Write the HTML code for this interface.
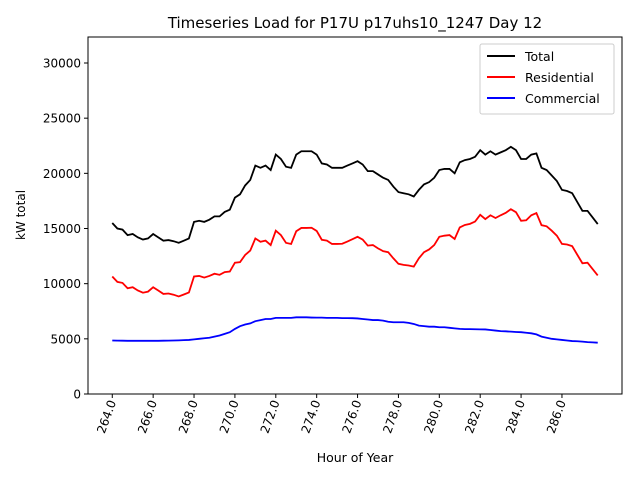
<!DOCTYPE html>
<html><head><meta charset="utf-8"><style>
body{margin:0;background:#fff;}
svg text{font-family:"DejaVu Sans","Liberation Sans",sans-serif;}
</style></head><body>
<svg id="chart" width="640" height="480" xmlns="http://www.w3.org/2000/svg">
<rect width="640" height="480" fill="#fff"/>
<text x="355" y="28" font-size="15" text-anchor="middle">Timeseries Load for P17U p17uhs10_1247  Day 12</text>
<text transform="translate(25,215) rotate(-90)" font-size="12" text-anchor="middle">kW total</text>
<text x="355" y="462" font-size="12.5" text-anchor="middle">Hour of Year</text>
<g id="ticks"></g>
<g id="series"></g>
<rect x="88" y="37" width="534" height="357" fill="none" stroke="#000" stroke-width="1"/>
<g>
<rect x="480" y="44" width="134" height="70" fill="#fff" stroke="#ccc" rx="2"/>
<line x1="487" y1="56" x2="515" y2="56" stroke="#000" stroke-width="2"/>
<text x="525" y="61" font-size="12.5">Total</text>
<line x1="487" y1="77" x2="515" y2="77" stroke="#f00" stroke-width="2"/>
<text x="525" y="82" font-size="12.5">Residential</text>
<line x1="487" y1="98" x2="515" y2="98" stroke="#00f" stroke-width="2"/>
<text x="525" y="103" font-size="12.5">Commercial</text>
</g>
</svg>
<script>
const total=[15500,15000,14900,14400,14500,14200,14000,14100,14500,14200,13900,13950,13850,13700,13900,14100,
15600,15700,15600,15800,16100,16100,16500,16700,17800,18100,18900,19400,20700,20500,20700,20300,
21700,21300,20600,20500,21700,22000,22000,22000,21700,20900,20800,20500,20500,20500,20700,20900,
21100,20800,20200,20200,19900,19600,19400,18800,18300,18200,18100,17900,18500,19000,19200,19600,
20300,20400,20400,20000,21000,21200,21300,21500,22100,21700,22000,21700,21900,22100,22400,22100,
21300,21300,21700,21800,20500,20300,19800,19300,18500,18400,18200,17400,16600,16600,16000,15400];
const residential=[10650,10160,10070,9580,9680,9380,9180,9280,9680,9380,9070,9110,9000,8840,9020,9200,
10650,10700,10550,10700,10900,10800,11050,11100,11900,11950,12600,13000,14100,13800,13900,13500,
14800,14400,13700,13600,14750,15050,15050,15070,14780,13980,13900,13600,13600,13620,13820,14030,
14250,14000,13450,13500,13200,12950,12850,12300,11800,11700,11650,11550,12300,12850,13100,13500,
14250,14350,14400,14050,15100,15320,15420,15630,16240,15850,16200,15950,16200,16420,16750,16480,
15700,15750,16200,16400,15300,15200,14800,14350,13600,13550,13400,12620,11850,11900,11320,10750];
const commercial=[4850,4840,4830,4820,4820,4820,4820,4820,4820,4820,4830,4840,4850,4860,4880,4900,
4950,5000,5050,5100,5200,5300,5450,5600,5900,6150,6300,6400,6600,6700,6800,6800,
6900,6900,6900,6900,6950,6950,6950,6930,6920,6920,6900,6900,6900,6880,6880,6870,
6850,6800,6750,6700,6700,6650,6550,6500,6500,6500,6450,6350,6200,6150,6100,6100,
6050,6050,6000,5950,5900,5880,5880,5870,5860,5850,5800,5750,5700,5680,5650,5620,
5600,5550,5500,5400,5200,5100,5000,4950,4900,4850,4800,4780,4750,4700,4680,4650];
const startHour=264, stepHour=0.25;
const xTicks=[264,266,268,270,272,274,276,278,280,282,284,286];
const yTicks=[0,5000,10000,15000,20000,25000,30000];

const NS="http://www.w3.org/2000/svg";
const X0=88,X1=622,Y0=394,Y1=37;
const xMin=264-1.1875,xMax=287.75+1.1875,yMin=0,yMax=32357;
const xs=h=>X0+(h-xMin)/(xMax-xMin)*(X1-X0);
const ys=v=>Y0-(v-yMin)/(yMax-yMin)*(Y0-Y1);
const tg=document.getElementById('ticks');
xTicks.forEach(t=>{
  const x=xs(t);
  const l=document.createElementNS(NS,'line');
  l.setAttribute('x1',x);l.setAttribute('x2',x);l.setAttribute('y1',Y0);l.setAttribute('y2',Y0+4);l.setAttribute('stroke','#000');
  
  
  tg.appendChild(l);
  const tx=document.createElementNS(NS,'text');
  tx.setAttribute('transform',`translate(${x+4},${Y0+8}) rotate(-70)`);
  tx.setAttribute('font-size','12');tx.setAttribute('text-anchor','end');
  tx.textContent=t.toFixed(1);
  
  
  tg.appendChild(tx);
});
yTicks.forEach(t=>{
  const y=ys(t);
  const l=document.createElementNS(NS,'line');
  l.setAttribute('x1',X0-4);l.setAttribute('x2',X0);l.setAttribute('y1',y);l.setAttribute('y2',y);l.setAttribute('stroke','#000');
  
  
  tg.appendChild(l);
  const tx=document.createElementNS(NS,'text');
  tx.setAttribute('x',X0-7);tx.setAttribute('y',y+4.5);
  tx.setAttribute('font-size','12');tx.setAttribute('text-anchor','end');
  tx.textContent=t;
  
  
  tg.appendChild(tx);
});
const sg=document.getElementById('series');
[[total,'#000','total-line'],[residential,'#f00','residential-line'],[commercial,'#00f','commercial-line']].forEach(([arr,c,n])=>{
  const p=document.createElementNS(NS,'polyline');
  p.setAttribute('points',arr.map((v,i)=>xs(startHour+i*stepHour).toFixed(2)+','+ys(v).toFixed(2)).join(' '));
  p.setAttribute('fill','none');p.setAttribute('stroke',c);p.setAttribute('stroke-width','1.8');
  
  
  sg.appendChild(p);
});
</script>
</body></html>
